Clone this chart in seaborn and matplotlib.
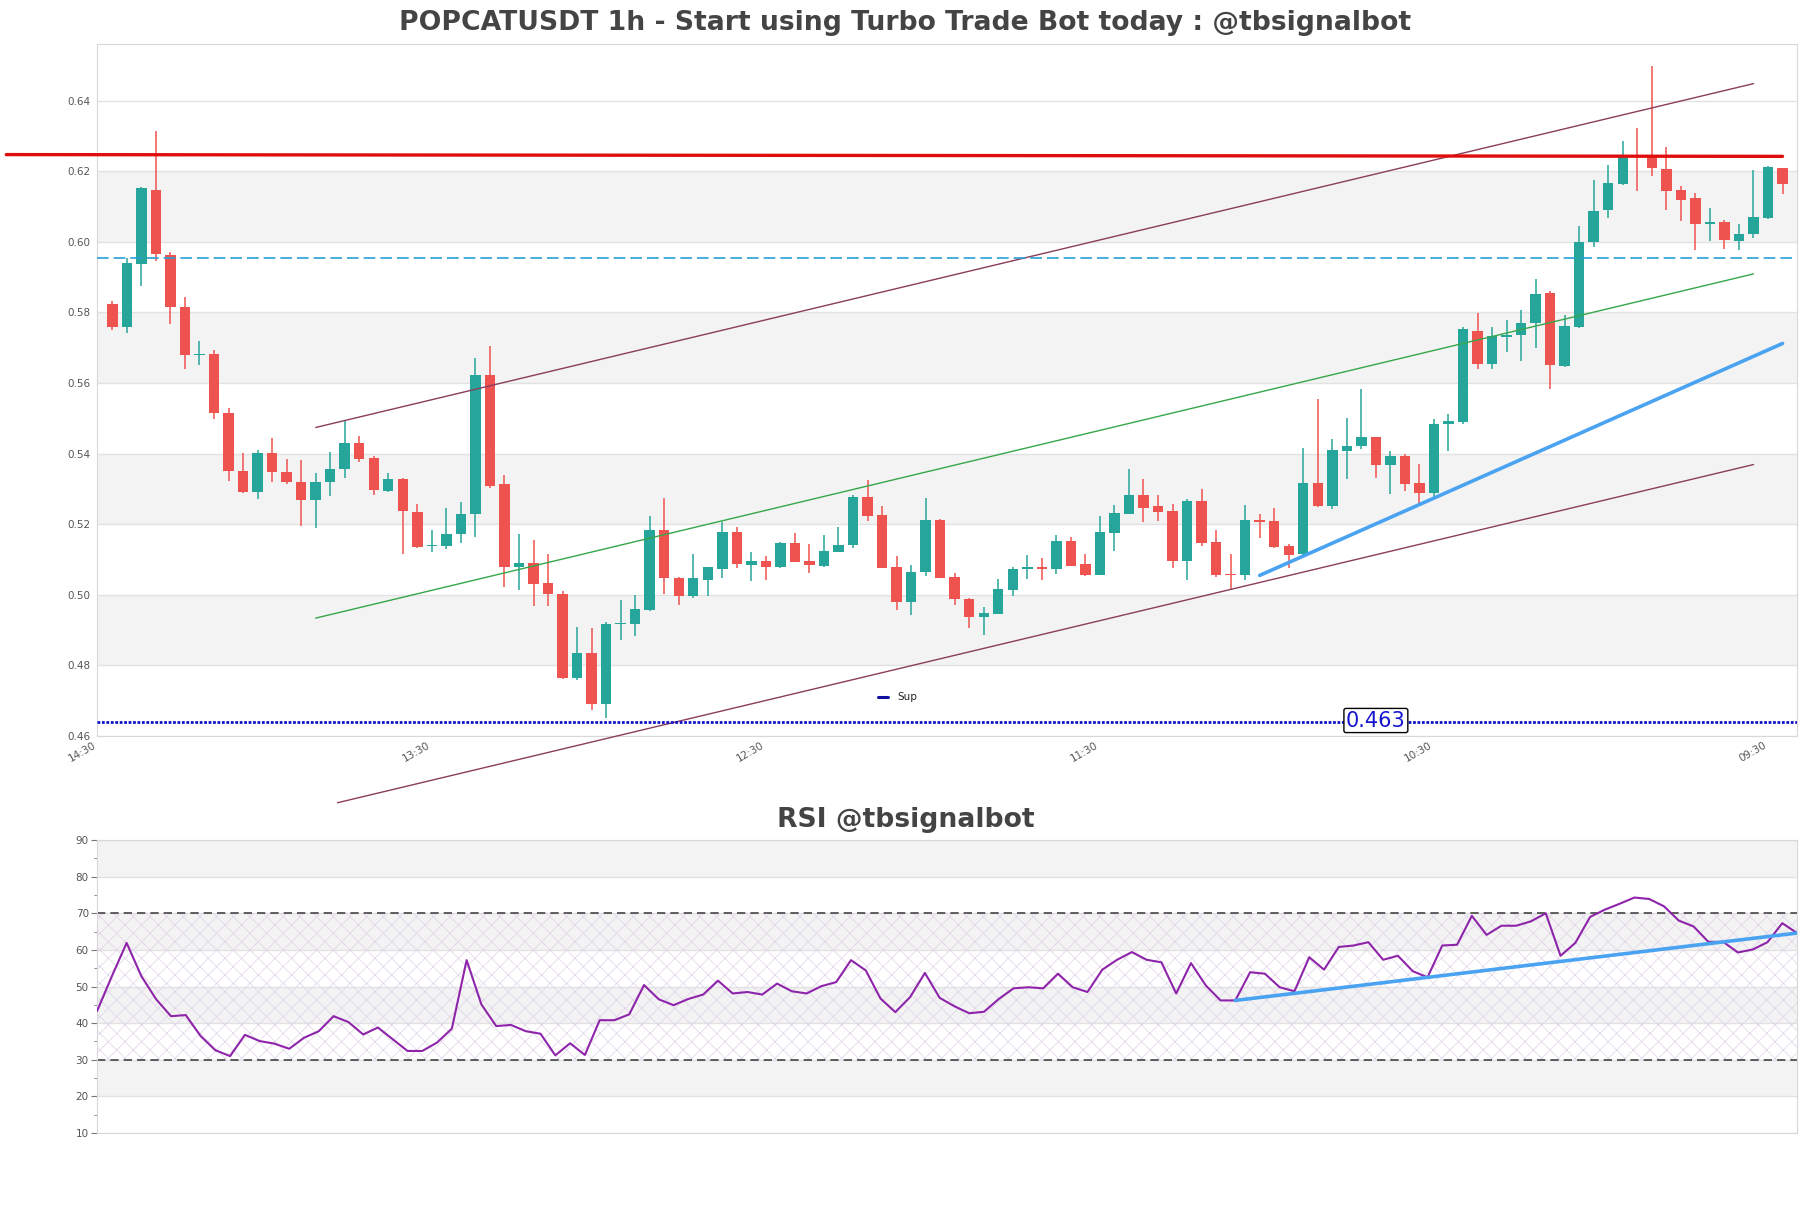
import numpy as np
import pandas as pd
import matplotlib
matplotlib.use("Agg")
import matplotlib.pyplot as plt
import matplotlib.transforms as mtransforms
from matplotlib.lines import Line2D
import seaborn as sns

# candle data (1h candles)
opens = [0.5824, 0.5760, 0.5938, 0.6148, 0.5962, 0.5815, 0.5680, 0.5682, 0.5515, 0.5352,
         0.5291, 0.5402, 0.5348, 0.5320, 0.5268, 0.5319, 0.5357, 0.5429, 0.5388, 0.5294,
         0.5327, 0.5235, 0.5137, 0.5139, 0.5173, 0.5228, 0.5624, 0.5313, 0.5080, 0.5090,
         0.5033, 0.5002, 0.4763, 0.4836, 0.4692, 0.4918, 0.4916, 0.4958, 0.5183, 0.5049,
         0.4996, 0.5043, 0.5073, 0.5179, 0.5085, 0.5095, 0.5078, 0.5148, 0.5095, 0.5082,
         0.5122, 0.5142, 0.5278, 0.5226, 0.5079, 0.4981, 0.5064, 0.5212, 0.5050, 0.4988,
         0.4936, 0.4947, 0.5015, 0.5072, 0.5078, 0.5072, 0.5153, 0.5087, 0.5055, 0.5175,
         0.5229, 0.5282, 0.5252, 0.5238, 0.5097, 0.5265, 0.5149, 0.5059, 0.5055, 0.5212,
         0.5208, 0.5137, 0.5115, 0.5316, 0.5252, 0.5407, 0.5421, 0.5446, 0.5368, 0.5394,
         0.5316, 0.5288, 0.5484, 0.5490, 0.5748, 0.5655, 0.5729, 0.5735, 0.5769, 0.5855,
         0.5647, 0.5759, 0.5999, 0.6089, 0.6164, 0.6247, 0.6243, 0.6206, 0.6147, 0.6124,
         0.6051, 0.6055, 0.6003, 0.6022, 0.6067, 0.6210]
highs = [0.5833, 0.5953, 0.6154, 0.6313, 0.5972, 0.5845, 0.5720, 0.5694, 0.5529, 0.5402,
         0.5409, 0.5445, 0.5385, 0.5383, 0.5346, 0.5404, 0.5492, 0.5451, 0.5393, 0.5344,
         0.5330, 0.5256, 0.5183, 0.5245, 0.5264, 0.5672, 0.5704, 0.5338, 0.5172, 0.5155,
         0.5115, 0.5010, 0.4910, 0.4906, 0.4924, 0.4986, 0.4999, 0.5224, 0.5275, 0.5050,
         0.5117, 0.5080, 0.5207, 0.5193, 0.5120, 0.5109, 0.5150, 0.5174, 0.5144, 0.5169,
         0.5191, 0.5282, 0.5324, 0.5252, 0.5109, 0.5085, 0.5274, 0.5215, 0.5062, 0.4991,
         0.4965, 0.5045, 0.5079, 0.5113, 0.5105, 0.5169, 0.5165, 0.5116, 0.5222, 0.5254,
         0.5356, 0.5328, 0.5282, 0.5257, 0.5271, 0.5299, 0.5185, 0.5116, 0.5254, 0.5229,
         0.5247, 0.5144, 0.5415, 0.5556, 0.5440, 0.5502, 0.5584, 0.5447, 0.5407, 0.5398,
         0.5370, 0.5497, 0.5513, 0.5758, 0.5799, 0.5758, 0.5779, 0.5807, 0.5895, 0.5860,
         0.5793, 0.6045, 0.6176, 0.6218, 0.6286, 0.6322, 0.6498, 0.6268, 0.6157, 0.6138,
         0.6095, 0.6062, 0.6051, 0.6204, 0.6215, 0.6210]
lows = [0.5751, 0.5743, 0.5876, 0.5947, 0.5768, 0.5641, 0.5652, 0.5498, 0.5322, 0.5289,
        0.5272, 0.5319, 0.5313, 0.5195, 0.5190, 0.5280, 0.5330, 0.5376, 0.5282, 0.5292,
        0.5115, 0.5134, 0.5120, 0.5129, 0.5146, 0.5164, 0.5303, 0.5021, 0.5015, 0.4967,
        0.4967, 0.4762, 0.4758, 0.4673, 0.4650, 0.4873, 0.4882, 0.4955, 0.5002, 0.4970,
        0.4991, 0.4998, 0.5049, 0.5075, 0.5038, 0.5043, 0.5076, 0.5092, 0.5061, 0.5080,
        0.5120, 0.5132, 0.5210, 0.5075, 0.4956, 0.4942, 0.5053, 0.5047, 0.4972, 0.4907,
        0.4885, 0.4946, 0.4998, 0.5045, 0.5041, 0.5059, 0.5081, 0.5053, 0.5055, 0.5124,
        0.5228, 0.5207, 0.5210, 0.5076, 0.5041, 0.5137, 0.5050, 0.5017, 0.5041, 0.5160,
        0.5132, 0.5076, 0.5112, 0.5250, 0.5243, 0.5328, 0.5413, 0.5332, 0.5285, 0.5294,
        0.5259, 0.5275, 0.5407, 0.5485, 0.5639, 0.5641, 0.5689, 0.5661, 0.5699, 0.5584,
        0.5645, 0.5757, 0.5985, 0.6067, 0.6161, 0.6145, 0.6185, 0.6091, 0.6060, 0.5978,
        0.6003, 0.5980, 0.5978, 0.6012, 0.6065, 0.6136]
closes = [0.5760, 0.5940, 0.6151, 0.5964, 0.5814, 0.5678, 0.5682, 0.5515, 0.5350, 0.5291,
          0.5402, 0.5348, 0.5319, 0.5268, 0.5320, 0.5355, 0.5429, 0.5385, 0.5297, 0.5327,
          0.5237, 0.5136, 0.5139, 0.5173, 0.5230, 0.5624, 0.5308, 0.5080, 0.5090, 0.5031,
          0.5001, 0.4763, 0.4836, 0.4692, 0.4918, 0.4919, 0.4960, 0.5183, 0.5049, 0.4998,
          0.5048, 0.5079, 0.5179, 0.5087, 0.5095, 0.5080, 0.5146, 0.5094, 0.5085, 0.5124,
          0.5142, 0.5278, 0.5224, 0.5077, 0.4981, 0.5064, 0.5212, 0.5049, 0.4987, 0.4936,
          0.4949, 0.5017, 0.5073, 0.5078, 0.5072, 0.5153, 0.5083, 0.5055, 0.5177, 0.5232,
          0.5282, 0.5246, 0.5235, 0.5097, 0.5265, 0.5147, 0.5057, 0.5055, 0.5212, 0.5205,
          0.5136, 0.5114, 0.5316, 0.5252, 0.5409, 0.5422, 0.5446, 0.5368, 0.5394, 0.5314,
          0.5288, 0.5485, 0.5491, 0.5752, 0.5655, 0.5732, 0.5737, 0.5770, 0.5852, 0.5650,
          0.5761, 0.5999, 0.6088, 0.6166, 0.6246, 0.6243, 0.6208, 0.6145, 0.6119, 0.6051,
          0.6055, 0.6006, 0.6023, 0.6070, 0.6213, 0.6164]

rsi = [43.3, 52.8, 61.9, 52.8, 46.5, 41.9, 42.2, 36.5, 32.6, 31.0,
       36.8, 35.1, 34.4, 33.0, 36.0, 37.8, 41.9, 40.3, 36.9, 38.8,
       35.6, 32.4, 32.4, 34.7, 38.5, 57.2, 45.1, 39.2, 39.5, 37.8,
       37.1, 31.2, 34.5, 31.3, 40.8, 40.8, 42.4, 50.4, 46.5, 44.9,
       46.6, 47.8, 51.6, 48.1, 48.5, 47.8, 50.8, 48.7, 48.1, 50.1,
       51.2, 57.2, 54.4, 46.7, 43.0, 47.1, 53.7, 46.9, 44.6, 42.7,
       43.1, 46.6, 49.5, 49.8, 49.5, 53.5, 49.8, 48.5, 54.6, 57.3,
       59.4, 57.3, 56.6, 48.1, 56.4, 50.3, 46.2, 46.2, 53.9, 53.5,
       49.8, 48.7, 58.0, 54.6, 60.8, 61.2, 62.1, 57.3, 58.4, 54.2,
       52.5, 61.2, 61.4, 69.3, 64.1, 66.6, 66.6, 67.8, 70.0, 58.4,
       61.9, 69.0, 71.0, 72.6, 74.3, 73.9, 71.9, 68.0, 66.4, 62.2,
       62.2, 59.3, 60.1, 62.1, 67.3, 64.6]

time_labels = ["14:30", "13:30", "12:30", "11:30", "10:30", "09:30"]

# levels and trend lines: (x0, y0, x1, y1) in candle index / price
resistance = (-7.3, 0.6247, 115, 0.6242)
mid_level = 0.5955
sup_level = 0.4640
sup_label = "0.463"
chan_upper = (14, 0.5474, 113, 0.6448)
chan_mid = (14, 0.4934, 113, 0.5909)
chan_lower = (15.5, 0.4411, 113, 0.5369)
trend_up = (79, 0.5055, 115, 0.5712)
rsi_trend = (77, 46.2, 115, 64.6)

df = pd.DataFrame({"open": opens, "high": highs, "low": lows, "close": closes})
df["x"] = np.arange(len(df))
df["up"] = df["close"] >= df["open"]

sns.set_style("white")
plt.rcParams["font.family"] = ["DejaVu Sans"]
plt.rcParams["hatch.linewidth"] = 0.5

GREEN = "#26a69a"
RED = "#ef5350"
BAND = "#f3f3f3"
GRID = "#e2e2e2"
TXT = "#555555"

fig = plt.figure(figsize=(18.11, 12.08), dpi=100)
ax = fig.add_axes([0.0536, 0.3907, 0.9387, 0.5728])
ax2 = fig.add_axes([0.0536, 0.0621, 0.9387, 0.2425])

# ---- price panel
for lo in [0.48, 0.52, 0.56, 0.60]:
    ax.axhspan(lo, lo + 0.02, color=BAND, zorder=0, lw=0)
for y in np.arange(0.46, 0.641, 0.02):
    ax.axhline(y, color=GRID, lw=1, zorder=0.5)

colors = np.where(df["up"], GREEN, RED)
ax.vlines(df["x"], df["low"], df["high"], colors=colors, lw=1.1, zorder=2)
body = (df["close"] - df["open"]).abs().clip(lower=0.00035)
bottom = np.minimum(df["open"], df["close"])
ax.bar(df["x"], body, bottom=bottom, width=0.72, color=colors, lw=0, zorder=3)


def seg(target, p, **kw):
    x0, y0, x1, y1 = p
    line = pd.DataFrame({"x": [x0, x1], "y": [y0, y1]})
    sns.lineplot(data=line, x="x", y="y", ax=target, **kw)


seg(ax, chan_upper, color="#8b3d5e", lw=1, zorder=4)
seg(ax, chan_mid, color="#36a64a", lw=1, zorder=4)
seg(ax, chan_lower, color="#8b3d5e", lw=1, zorder=4, clip_on=False)
seg(ax, trend_up, color="#4aa3f0", lw=2.6, zorder=5)
seg(ax, resistance, color="#e00d0d", lw=2.4, zorder=5, clip_on=False)

ax.axhline(mid_level, color="#2a9fd6", lw=1.2, ls=(0, (7, 3)), zorder=4)
ax.axhline(sup_level, color="#1010c8", lw=2, ls=(0, (1, 0.6)), zorder=4)
ax.text(87, sup_level + 0.0004, sup_label, color="#1515d0", fontsize=15,
        ha="center", va="center", zorder=6,
        bbox=dict(boxstyle="round,pad=0.1", fc="white", ec="black", lw=1))

sup_handle = Line2D([], [], color="#1010a0", lw=2.2)
ax.legend([sup_handle], ["Sup"], loc="center left", bbox_to_anchor=(0.454, 0.056),
          frameon=False, fontsize=7.5, handlelength=0.9, handletextpad=0.9)

ax.set_xlim(-1.05, 116.0)
ax.set_ylim(0.46, 0.656)
ax.set_yticks(np.arange(0.46, 0.641, 0.02))
ax.set_yticklabels([f"{v:.2f}" for v in np.arange(0.46, 0.641, 0.02)])
tick_pos = np.arange(len(time_labels)) * 23 - 1
ax.set_xticks(tick_pos)
ax.set_xticklabels(time_labels, rotation=30, ha="right")
shift = mtransforms.ScaledTranslation(-5 / 100, 0, fig.dpi_scale_trans)
for lab in ax.get_xticklabels():
    lab.set_transform(lab.get_transform() + shift)
ax.tick_params(axis="both", length=0, labelsize=7.5, labelcolor=TXT, pad=3)
ax.tick_params(axis="y", pad=5)
ax.set_xlabel("")
ax.set_ylabel("")
for s in ax.spines.values():
    s.set_color("#d8d8d8")

# ---- RSI panel
for lo in [20, 40, 60, 80]:
    ax2.axhspan(lo, lo + 10, color=BAND, zorder=0, lw=0)
for y in range(10, 91, 10):
    ax2.axhline(y, color=GRID, lw=1, zorder=0.5)
xr = np.arange(len(rsi))
ax2.fill_between([0, len(rsi) - 1], 30, 70, facecolor="none", edgecolor="#e0d2e8",
                 hatch="xx", lw=0, zorder=1)
ax2.axhline(70, color="#444444", lw=1.2, ls=(0, (5, 3)), zorder=2)
ax2.axhline(30, color="#444444", lw=1.2, ls=(0, (5, 3)), zorder=2)
sns.lineplot(x=xr, y=rsi, ax=ax2, color="#8e24aa", lw=1.5, zorder=3)
x0, y0, x1, y1 = rsi_trend
sns.lineplot(x=[x0, x1], y=[y0, y1], ax=ax2, color="#4aa3f0", lw=2.6, zorder=4)
ax2.set_xlim(0, len(rsi) - 1)
ax2.set_ylim(10, 90)
ax2.set_yticks(range(10, 91, 10))
ax2.set_yticks(range(15, 90, 10), minor=True)
ax2.set_xticks([])
ax2.tick_params(axis="y", which="major", length=4, color="#777777", labelsize=7.5,
                labelcolor=TXT, pad=2, left=True)
ax2.tick_params(axis="y", which="minor", length=2, color="#777777", left=True)
ax2.set_xlabel("")
ax2.set_ylabel("")
for s in ax2.spines.values():
    s.set_color("#d8d8d8")

fig.text(0.5, 0.981, "POPCATUSDT 1h - Start using Turbo Trade Bot today : @tbsignalbot",
         ha="center", va="center", fontsize=19.2, fontweight="bold", color="#444444")
fig.text(0.5, 0.321, "RSI @tbsignalbot", ha="center", va="center", fontsize=19.2,
         fontweight="bold", color="#444444")

fig.savefig("out.png", dpi=100)
